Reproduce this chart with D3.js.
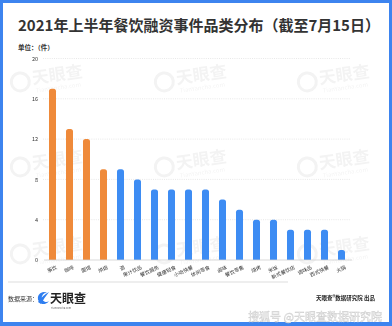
<!DOCTYPE html>
<html>
<head>
<meta charset="utf-8">
<script src="https://cdn.jsdelivr.net/npm/d3@7"></script>
<style>
  html, body { margin: 0; padding: 0; background: #fff; }
  svg { display: block; }
  text { font-family: "Noto Sans CJK SC", "Noto Sans", sans-serif; }
</style>
</head>
<body>
<svg id="chart" width="392" height="326"></svg>
<script>
// Restaurant financing deals by category, H1 2021 (through July 15)
const categories = ["茶饮", "咖啡", "面馆", "烘焙", "酒", "果汁饮品", "餐饮服务", "健康轻食", "小吃快餐",
  "休闲零食", "卤味", "餐饮零售", "烧烤", "米饭", "新式餐饮店", "调味品", "西式快餐", "火锅"];
const counts = [17, 13, 12, 9, 9, 8, 7, 7, 7, 7, 6, 5, 4, 4, 3, 3, 3, 1];
const highlighted = 4; // first four categories drawn in orange
const yTicks = [0, 4, 8, 12, 16, 20];

const svg = d3.select("#chart");
const W = 392, H = 326;

// frame
svg.append("rect").attr("width", W).attr("height", H).attr("fill", "#3d84ef");
svg.append("rect").attr("x", 3).attr("y", 3).attr("width", W - 6).attr("height", H - 7).attr("fill", "#ffffff");

// title
svg.append("text").attr("x", 18).attr("y", 31)
  .attr("font-size", 15).attr("font-weight", 700).attr("fill", "#333")
  .text("2021年上半年餐饮融资事件品类分布（截至7月15日）");
svg.append("text").attr("x", 18).attr("y", 50)
  .attr("font-size", 6.5).attr("font-weight", 700).attr("fill", "#333")
  .text("单位：（件）");

// faint brand watermarks behind the plot
const wmX = [48, 192, 335], wmY = [78, 163, 250];
const wm = svg.append("g").attr("opacity", 0.05);
wmY.forEach(y => wmX.forEach(x => {
  const g = wm.append("g").attr("transform", `translate(${x},${y}) rotate(-8)`);
  g.append("circle").attr("cx", -28).attr("cy", 0).attr("r", 9).attr("fill", "none").attr("stroke", "#000").attr("stroke-width", 3);
  g.append("text").attr("x", -16).attr("y", 4).attr("font-size", 17).attr("font-weight", 700).attr("fill", "#000").text("天眼查");
  g.append("text").attr("x", -14).attr("y", 13).attr("font-size", 6).attr("fill", "#000").text("TianYancha.com");
}));

// scales
const x = d3.scaleBand().domain(categories).range([44, 350]).paddingInner(0.588).paddingOuter(0.294);
const y = d3.scaleLinear().domain([0, 20]).range([260, 58.5]);

// gridlines and tick labels
const grid = svg.append("g");
grid.selectAll("line").data(yTicks.filter(t => t > 0)).join("line")
  .attr("x1", 43).attr("x2", 351).attr("y1", d => y(d)).attr("y2", d => y(d))
  .attr("stroke", "#d9d9d9").attr("stroke-width", 0.6).attr("stroke-dasharray", "1,1.2");
svg.append("g").attr("transform", "translate(41,0)")
  .call(d3.axisLeft(y).tickValues(yTicks).tickSize(0).tickPadding(3))
  .call(g => g.select(".domain").remove())
  .call(g => g.selectAll("text").attr("font-size", 5.5).attr("fill", "#333")
    .style("font-family", "'Noto Sans CJK SC', sans-serif"));

// bars with rounded tops
const r = 2.5;
function barPath(d, i) {
  const x0 = x(categories[i]), w = x.bandwidth(), y0 = y(d), y1 = y(0);
  return `M${x0},${y1} L${x0},${y0 + r} Q${x0},${y0} ${x0 + r},${y0} L${x0 + w - r},${y0} Q${x0 + w},${y0} ${x0 + w},${y0 + r} L${x0 + w},${y1} Z`;
}
svg.append("g").selectAll("path").data(counts).join("path")
  .attr("d", barPath)
  .attr("fill", (d, i) => i < highlighted ? "#ef8a3a" : "#3d8cf3");

// baseline
svg.append("line").attr("x1", 44).attr("x2", 352).attr("y1", y(0)).attr("y2", y(0))
  .attr("stroke", "#cfcfcf").attr("stroke-width", 0.8);

// category labels
svg.append("g").selectAll("text").data(categories).join("text")
  .attr("transform", d => `translate(${x(d) + x.bandwidth() / 2 + 4},${y(0) + 7}) rotate(-25)`)
  .attr("text-anchor", "end").attr("dy", "0.35em")
  .attr("font-size", 5).attr("fill", "#333")
  .text(d => d);

// footer
svg.append("line").attr("x1", 8).attr("x2", 288).attr("y1", 282).attr("y2", 282)
  .attr("stroke", "#eeeeee").attr("stroke-width", 2);
svg.append("text").attr("x", 8).attr("y", 301).attr("font-size", 6).attr("fill", "#333").text("数据来源：");
const logo = svg.append("g").attr("transform", "translate(43,298)");
logo.append("path").attr("d", "M4,-5 A6,6 0 1,0 6,3 A4.5,4.5 0 1,1 4,-5 Z").attr("fill", "#2f7ef0");
logo.append("path").attr("d", "M-5,4 Q0,-3 6,-6 Q1,0 -2,6 Z").attr("fill", "#2f7ef0");
logo.append("text").attr("x", 7).attr("y", 4.5).attr("font-size", 12).attr("font-weight", 700).attr("fill", "#222").text("天眼查");
logo.append("text").attr("x", 8).attr("y", 10.5).attr("font-size", 2.6).attr("fill", "#666").text("TianYanCha.com");

svg.append("text").attr("x", 375).attr("y", 300).attr("text-anchor", "end")
  .attr("font-size", 5.5).attr("font-weight", 700).attr("fill", "#222").text("天眼查®数据研究院 出品");

svg.append("text").attr("x", 382).attr("y", 321).attr("text-anchor", "end")
  .attr("font-size", 11).attr("fill", "#ffffff").attr("stroke", "#cccccc").attr("stroke-width", 0.45)
  .text("搜狐号 @天眼查数据研究院");
</script>
</body>
</html>
